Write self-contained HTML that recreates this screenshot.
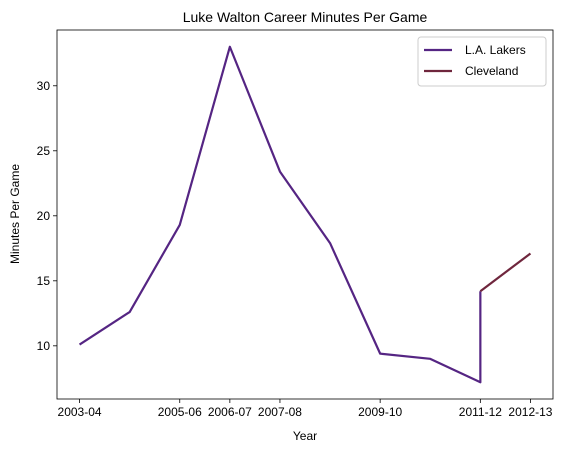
<!DOCTYPE html>
<html><head><meta charset="utf-8"><style>
body{margin:0;background:#fff;}
svg text{font-family:"Liberation Sans","DejaVu Sans",sans-serif;fill:#000;}
</style></head><body>
<svg id="chart" width="569" height="453" xmlns="http://www.w3.org/2000/svg">
<rect width="569" height="453" fill="#fff"/>
<text x="305" y="22" font-size="14" text-anchor="middle">Luke Walton Career Minutes Per Game</text>
<g id="plot"></g>
<text x="305" y="440" font-size="12" text-anchor="middle">Year</text>
<text transform="translate(19,214) rotate(-90)" font-size="12" text-anchor="middle">Minutes Per Game</text>
</svg>
<script>
const seasons = ["2003-04","2004-05","2005-06","2006-07","2007-08","2008-09","2009-10","2010-11","2011-12","2012-13"];
const xTickLabels = ["2003-04","2005-06","2006-07","2007-08","2009-10","2011-12","2012-13"];
const yTicks = [10,15,20,25,30];
const lakersSeasons = ["2003-04","2004-05","2005-06","2006-07","2007-08","2008-09","2009-10","2010-11","2011-12","2011-12"];
const lakersValues = [10.1,12.6,19.3,33.0,23.4,17.9,9.4,9.0,7.2,14.2];
const cavsSeasons = ["2011-12","2012-13"];
const cavsValues = [14.2,17.1];

const L=57,R=553,T=30,B=399;
const xMin=-0.45,xMax=9.45,yMin=5.91,yMax=34.29;
function xs(s){const i=seasons.indexOf(s);return L+(i-xMin)/(xMax-xMin)*(R-L);}
function ys(v){return B-(v-yMin)/(yMax-yMin)*(B-T);}
const NS="http://www.w3.org/2000/svg";
const g=document.getElementById('plot');
function el(tag,attrs){const e=document.createElementNS(NS,tag);for(const k in attrs)e.setAttribute(k,attrs[k]);g.appendChild(e);return e;}

xTickLabels.forEach(s=>{
  const x=xs(s);
  const t=el('line',{x1:x,x2:x,y1:B,y2:B+4,stroke:'#000','stroke-width':0.8});
  
  
  const tx=el('text',{x:x,y:B+17,'font-size':12,'text-anchor':'middle'});
  tx.textContent=s;
  
  
});
yTicks.forEach(v=>{
  const y=ys(v);
  const t=el('line',{x1:L-4,x2:L,y1:y,y2:y,stroke:'#000','stroke-width':0.8});
  
  
  const tx=el('text',{x:L-7,y:y+4,'font-size':12,'text-anchor':'end'});
  tx.textContent=v;
  
  
});
function line(ss,vs,color,name){
  const pts=ss.map((s,i)=>xs(s)+','+ys(vs[i])).join(' ');
  const p=el('polyline',{points:pts,fill:'none',stroke:color,'stroke-width':2.2,'stroke-linejoin':'round'});
  
  
}
line(lakersSeasons,lakersValues,'#552583','lakers-line');
line(cavsSeasons,cavsValues,'#6F263D','cleveland-line');
const frame=el('rect',{x:L,y:T,width:R-L,height:B-T,fill:'none',stroke:'#000','stroke-width':0.8});



const lg=el('rect',{x:418,y:37,width:128,height:49,fill:'#fff',stroke:'#ccc','stroke-width':1,rx:3});


[['L.A. Lakers','#552583',54],['Cleveland','#6F263D',75]].forEach(([n,c,y])=>{
  const l=el('line',{x1:424,x2:452,y1:y-4,y2:y-4,stroke:c,'stroke-width':2.2});
  
  
  const t=el('text',{x:465,y:y,'font-size':12});
  t.textContent=n;
  
  
});
</script>
</body></html>
